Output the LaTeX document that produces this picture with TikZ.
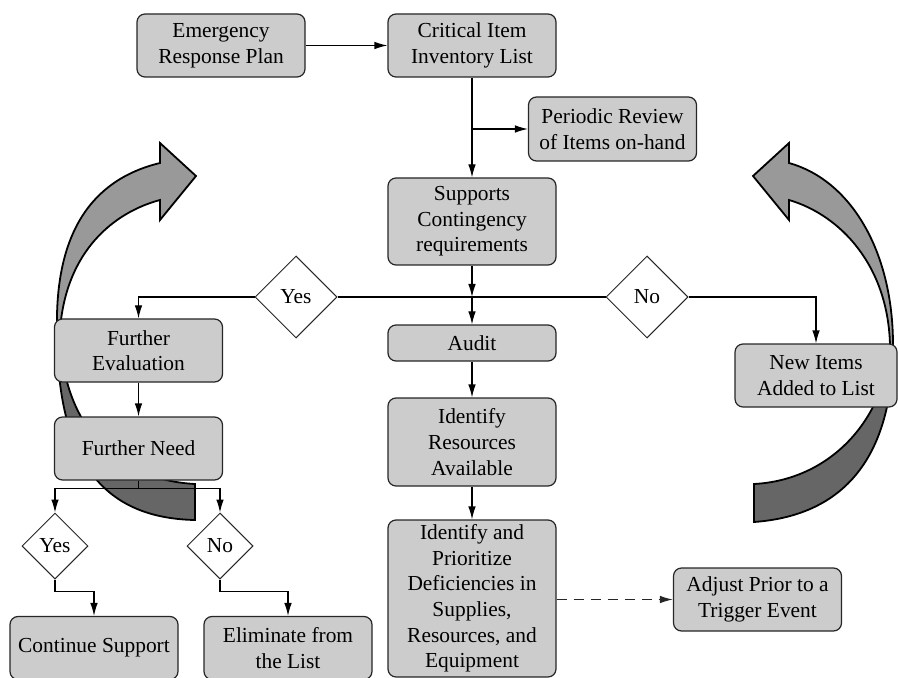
\documentclass[tikz,border=0pt]{standalone}
\usepackage{fontspec}
\setmainfont{Liberation Serif}
\usetikzlibrary{arrows,arrows.meta,shapes,positioning,calc}

\definecolor{boxgray}{gray}{0.8}
\definecolor{frontgray}{gray}{0.6}
\definecolor{backgray}{gray}{0.4}

\tikzset{
  stepbox/.style={draw=black!85, fill=boxgray, rounded corners=4pt, align=center,
    minimum width=84pt, minimum height=31.5pt, inner sep=1.5pt, line width=0.6pt},
  choice/.style={draw=black!85, fill=white, diamond, aspect=1, inner sep=0pt,
    minimum width=41pt, minimum height=41pt, line width=0.5pt},
  smallchoice/.style={choice, minimum width=33pt, minimum height=33pt},
  flow/.style={->, >={Latex[length=6.5pt,width=3.8pt]}, line width=0.6pt},
  ribbon/.style={draw=black, line width=0.9pt, line join=miter},
}

\begin{document}
\begin{tikzpicture}[x=0.5pt, y=-0.5pt, font=\fontsize{10.7}{12.8}\selectfont]
      \useasboundingbox (0,0) rectangle (898,678);

      % Big curved arrows, behind the chart
      \draw[ribbon, fill=backgray] (57,330) .. controls (57,450) and (95,518) .. (195,520)
        -- (195,484) .. controls (120,480) and (62,430) .. (60,330) -- cycle;
      \draw[ribbon, fill=frontgray] (57,330) .. controls (55,235) and (90,180) .. (160,163)
        -- (160,143) -- (196,176) -- (160,220) -- (160,200)
        .. controls (115,212) and (66,250) .. (60,330) -- cycle;

      \draw[ribbon, fill=backgray] (893,345) .. controls (893,450) and (850,515) .. (754,522)
        -- (754,484) .. controls (830,480) and (885,420) .. (890,345) -- cycle;
      \draw[ribbon, fill=frontgray] (893,345) .. controls (893,250) and (850,180) .. (789,163)
        -- (789,143) -- (753,176) -- (789,220) -- (789,200)
        .. controls (840,215) and (888,265) .. (890,345) -- cycle;

      % Main column
      \node[stepbox] (plan) at (221,45.5) {Emergency\\Response Plan};
      \node[stepbox] (inventory) at (472,45.5) {Critical Item\\Inventory List};
      \node[stepbox, minimum height=32pt] (review) at (612.5,129) {Periodic Review\\of Items on-hand};
      \node[stepbox, minimum height=43.5pt] (supports) at (472,221.5) {Supports\\Contingency\\requirements};
      \node[choice] (yes) at (296,297) {Yes};
      \node[choice] (no) at (647,297) {No};
      \node[stepbox, minimum height=18pt] (audit) at (472,343) {Audit};
      \node[stepbox, minimum height=44pt] (resources) at (472,442) {Identify\\Resources\\Available};
      \node[stepbox, minimum height=78.5pt] (deficiencies) at (472,598.5)
        {Identify and\\Prioritize\\Deficiencies in\\Supplies,\\Resources, and\\Equipment};
      \node[stepbox] (adjust) at (757.5,599.5) {Adjust Prior to a\\Trigger Event};

      % Right branch
      \node[stepbox, minimum width=81pt] (newitems) at (816,375.5) {New Items\\Added to List};

      % Left branch
      \node[stepbox] (evaluation) at (138.5,350.5) {Further\\Evaluation};
      \node[stepbox] (need) at (138.5,448.5) {Further Need};
      \node[smallchoice] (needyes) at (55,546) {Yes};
      \node[smallchoice] (needno) at (220,546) {No};
      \node[stepbox] (continue) at (94,648) {Continue Support};
      \node[stepbox] (eliminate) at (288,648) {Eliminate from\\the List};

      % Connectors
      \coordinate (tap) at (inventory.south |- review.west);
      \coordinate (hub) at (supports.south |- yes.east);
      \coordinate (split) at ($(need.south)+(0,8)$);

      \draw[flow] (plan) -- (inventory);
      \draw[flow] (inventory) -- (supports);
      \draw[flow] (tap) -- (review);
      \draw[flow] (supports) -- (hub);
      \draw[line width=0.6pt] (yes.east) -- (no.west);
      \draw[flow] (yes.west) -| (evaluation.north);
      \draw[flow] (no.east) -| (newitems.north);
      \draw[flow] (hub) -- (audit);
      \draw[flow] (audit) -- (resources);
      \draw[flow] (resources) -- (deficiencies);
      \draw[flow, dash pattern=on 5pt off 3.5pt, black!85] (deficiencies.east |- adjust.west) -- (adjust.west);

      \draw[flow] (evaluation) -- (need);
      \draw[line width=0.6pt] (need.south) -- (split);
      \draw[flow] (split) -| (needyes.north);
      \draw[flow] (split) -| (needno.north);
      \draw[flow] (needyes.south) -- ++(0,12) -| (continue.north);
      \draw[flow] (needno.south) -- ++(0,12) -| (eliminate.north);
    \end{tikzpicture}
\end{document}
